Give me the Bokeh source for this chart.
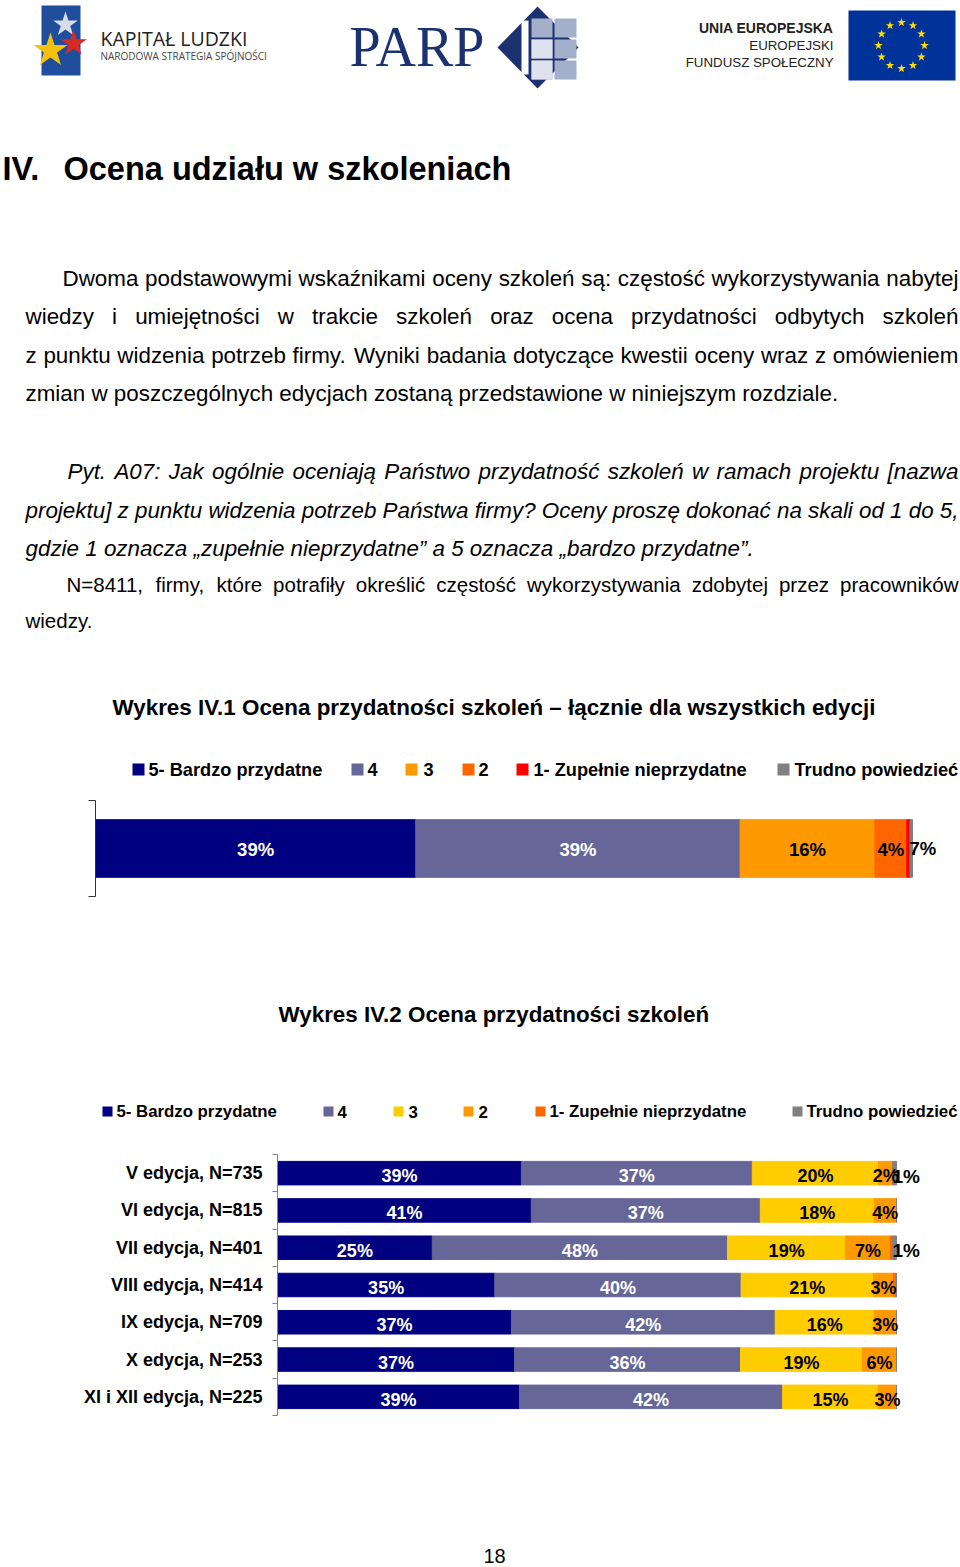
import math
import unicodedata
from bokeh.plotting import figure
from bokeh.layouts import column
from bokeh.models import Range1d, FixedTicker, LinearAxis, ColumnDataSource
from bokeh.core.properties import value
from bokeh.embed import file_html
from bokeh.resources import INLINE

FONT = "Liberation Sans"
SERIF = "Liberation Serif"

# ---------------- data ----------------
series_names = ["5- Bardzo przydatne", "4", "3", "2", "1- Zupełnie nieprzydatne", "Trudno powiedzieć"]

# Chart IV.1 (all editions)
c1_values = [39.2, 39.7, 16.5, 3.9, 0.4, 0.3]
c1_labels = ["39%", "39%", "16%", "4%", "", "7%"]
c1_colors = ["#000080", "#666699", "#FF9900", "#FF6600", "#FF0000", "#808080"]

# Chart IV.2 (by edition)
editions = ["V edycja, N=735", "VI edycja, N=815", "VII edycja, N=401", "VIII edycja, N=414",
            "IX edycja, N=709", "X edycja, N=253", "XI i XII edycja, N=225"]
s5 = [39.4, 41.0, 25.0, 35.1, 37.8, 38.3, 39.1]
s4 = [37.3, 37.0, 47.7, 39.8, 42.6, 36.5, 42.5]
s3 = [20.4, 18.4, 19.1, 21.4, 16.0, 19.7, 15.5]
s2 = [2.3, 3.6, 7.2, 3.2, 3.6, 5.5, 2.9]
s1 = [0.0, 0.0, 0.4, 0.5, 0.0, 0.0, 0.0]
st = [0.6, 0.0, 0.6, 0.0, 0.0, 0.0, 0.0]
l5 = ["39%", "41%", "25%", "35%", "37%", "37%", "39%"]
l4 = ["37%", "37%", "48%", "40%", "42%", "36%", "42%"]
l3 = ["20%", "18%", "19%", "21%", "16%", "19%", "15%"]
l2 = ["2%", "4%", "7%", "3%", "3%", "6%", "3%"]
l1 = ["", "", "", "", "", "", ""]
lt = ["1%", "", "1%", "", "", "", ""]
c2_colors = ["#000080", "#666699", "#FFCC00", "#FF9900", "#FF6600", "#808080"]

# ---------------- helpers ----------------
W = {" ": 278, "a": 556, "b": 556, "c": 500, "d": 556, "e": 556, "f": 278, "g": 556, "h": 556,
     "i": 222, "j": 222, "k": 500, "l": 222, "m": 833, "n": 556, "o": 556, "p": 556, "q": 556,
     "r": 333, "s": 500, "t": 278, "u": 556, "v": 500, "w": 722, "x": 500, "y": 500, "z": 500,
     "A": 667, "B": 667, "C": 722, "D": 722, "E": 667, "F": 611, "G": 778, "H": 722, "I": 278,
     "J": 500, "K": 667, "L": 556, "M": 833, "N": 722, "O": 778, "P": 667, "Q": 778, "R": 722,
     "S": 667, "T": 611, "U": 722, "V": 667, "W": 944, "X": 667, "Y": 667, "Z": 611,
     ".": 278, ",": 278, ":": 278, "?": 556, "[": 278, "]": 278, "=": 584, "„": 333, "”": 333,
     "ł": 222, "Ł": 556}


def cw(ch):
    if ch in W:
        return W[ch]
    if ch.isdigit():
        return 556
    base = unicodedata.normalize("NFD", ch)[0]
    return W.get(base, 556)


def page_fig(h):
    p = figure(width=960, height=h, x_range=Range1d(0, 960), y_range=Range1d(h, 0),
               x_axis_location=None, y_axis_location=None, toolbar_location=None,
               output_backend="svg", min_border=0, outline_line_color=None)
    p.frame_align = False
    p.grid.visible = False
    return p


def style_of(bold, italic):
    if bold and italic:
        return "bold italic"
    if bold:
        return "bold"
    if italic:
        return "italic"
    return "normal"


def txt(p, x, y, s, size, bold=False, italic=False, color="black", align="left", font=FONT):
    p.text(x=[x], y=[y], text=[s], text_font=value(font), text_font_size=f"{size}px",
           text_font_style=style_of(bold, italic), text_color=color, text_align=align,
           text_baseline="middle")


def justified(p, line, left, right, y, size, italic=False):
    words = line.split(" ")
    widths = [sum(cw(c) for c in w) * size / 1000 for w in words]
    gap = (right - left - sum(widths)) / (len(words) - 1)
    xs, x = [], left
    for wd in widths:
        xs.append(x)
        x += wd + gap
    p.text(x=xs, y=[y] * len(words), text=words, text_font=value(FONT),
           text_font_size=f"{size}px", text_font_style=style_of(False, italic),
           text_color="black", text_align="left", text_baseline="middle")


BODY = 22.4
NOTE = 20.5

# ---------------- top page part ----------------
top = page_fig(790)

# Kapitał Ludzki logo
top.quad(left=[41], right=[80], top=[5], bottom=[75], fill_color="#1f4e9c", line_color=None)
top.scatter(x=[65], y=[24], marker="star", size=26, fill_color="#d8dce6", line_color=None)
top.scatter(x=[73], y=[43], marker="star", size=28, fill_color="#d42a2a", line_color=None)
top.scatter(x=[50], y=[50], marker="star", size=36, fill_color="#f4c20d", line_color=None)
txt(top, 100, 38, "KAPITAŁ LUDZKI", 19.5, color="#222222", font="Open Sans")
txt(top, 100, 55, "NARODOWA STRATEGIA SPÓJNOŚCI", 10, color="#444444", font="Open Sans")

# PARP logo
txt(top, 349, 46, "PARP", 56, color="#1c3170", font=SERIF)
top.patch(x=[497, 537, 578, 537], y=[47, 6, 47, 88], fill_color="#1c3170", line_color=None)
top.quad(left=[521], right=[528], top=[20], bottom=[74], fill_color="white", line_color=None)
top.quad(left=[531, 554, 531, 554, 531, 554], right=[552, 576, 552, 576, 552, 576],
         top=[18, 18, 39, 39, 60, 60], bottom=[37, 37, 58, 58, 79, 79],
         fill_color="#a4afcc", line_color=None)
top.quad(left=[531, 531], right=[552, 552], top=[39, 60], bottom=[58, 79],
         fill_color="#dde2ee", line_color=None)

# EU logo
txt(top, 833, 27, "UNIA EUROPEJSKA", 14, bold=True, color="#222222", align="right")
txt(top, 833, 45, "EUROPEJSKI", 13.3, color="#222222", align="right")
txt(top, 833, 62, "FUNDUSZ SPOŁECZNY", 13.3, color="#222222", align="right")
top.quad(left=[848], right=[955], top=[10], bottom=[80], fill_color="#003399", line_color=None)
sx = [901 + 23 * math.sin(2 * math.pi * k / 12) for k in range(12)]
sy = [45 - 23 * math.cos(2 * math.pi * k / 12) for k in range(12)]
top.scatter(x=sx, y=sy, marker="star", size=9, fill_color="#FFDD00", line_color=None)

# heading
txt(top, 2, 168, "IV.", 32.5, bold=True)
txt(top, 63, 168, "Ocena udziału w szkoleniach", 32.5, bold=True)

# paragraphs
justified(top, "Dwoma podstawowymi wskaźnikami oceny szkoleń są: częstość wykorzystywania nabytej", 62, 958, 278, BODY)
justified(top, "wiedzy i umiejętności w trakcie szkoleń oraz ocena przydatności odbytych szkoleń", 25, 958, 316, BODY)
justified(top, "z punktu widzenia potrzeb firmy. Wyniki badania dotyczące kwestii oceny wraz z omówieniem", 25, 958, 355, BODY)
txt(top, 25, 393, "zmian w poszczególnych edycjach zostaną przedstawione w niniejszym rozdziale.", BODY)
justified(top, "Pyt. A07: Jak ogólnie oceniają Państwo przydatność szkoleń w ramach projektu [nazwa", 67, 958, 471, BODY, italic=True)
justified(top, "projektu] z punktu widzenia potrzeb Państwa firmy? Oceny proszę dokonać na skali od 1 do 5,", 25, 958, 510, BODY, italic=True)
txt(top, 25, 548, "gdzie 1 oznacza „zupełnie nieprzydatne” a 5 oznacza „bardzo przydatne”.", BODY, italic=True)
justified(top, "N=8411, firmy, które potrafiły określić częstość wykorzystywania zdobytej przez pracowników", 66, 958, 584, NOTE)
txt(top, 25, 620, "wiedzy.", NOTE)

# chart 1 title + legend
txt(top, 112, 707, "Wykres IV.1 Ocena przydatności szkoleń – łącznie dla wszystkich edycji", 22.4, bold=True)
leg1_sq = [138, 357, 411, 468, 522, 783]
leg1_tx = [148, 367, 423, 478, 533, 794]
top.scatter(x=leg1_sq, y=[769] * 6, marker="square", size=12, fill_color=c1_colors, line_color=None)
top.text(x=leg1_tx, y=[769] * 6, text=series_names, text_font=value(FONT), text_font_size="18.2px",
         text_font_style="bold", text_baseline="middle", text_align="left")

# ---------------- chart 1 ----------------
H1 = 115
fl1, fr1, bar1_end = 95, 945, 912
p1 = figure(width=960, height=H1, x_range=Range1d(0, 100 * (fr1 - fl1) / (bar1_end - fl1)),
            y_range=Range1d(0, 1), x_axis_location=None, y_axis_location=None,
            toolbar_location=None, output_backend="svg", min_border_left=fl1,
            min_border_right=960 - fr1, min_border_top=10, min_border_bottom=9,
            outline_line_color=None)
p1.frame_align = False
p1.grid.visible = False
keys1 = [f"v{i}" for i in range(len(c1_values))]
src1 = ColumnDataSource(dict(y=[0.5], **{k: [v] for k, v in zip(keys1, c1_values)}))
p1.hbar_stack(keys1, y="y", height=0.6, color=c1_colors, source=src1)
ax1 = LinearAxis(ticker=FixedTicker(ticks=[0, 1]), major_tick_out=7, major_tick_in=0,
                 minor_tick_line_color=None, major_label_overrides={0: "", 1: ""},
                 major_label_standoff=0, axis_line_color="#333333", major_tick_line_color="#333333")
p1.add_layout(ax1, "left")
cum = 0
total1 = sum(c1_values)
for i, (v, lab) in enumerate(zip(c1_values, c1_labels)):
    cum += v
    if not lab:
        continue
    col = "white" if i < 2 else "black"
    if v < 1:
        p1.text(x=[total1], y=[0.5], text=[lab], text_font=value(FONT), text_font_size="18.5px",
                text_font_style="bold", text_color=col, text_align="left", text_baseline="middle",
                x_offset=-3)
    else:
        p1.text(x=[cum - v / 2], y=[0.5], text=[lab], text_font=value(FONT), text_font_size="18.5px",
                text_font_style="bold", text_color=col, text_align="center", text_baseline="middle",
                y_offset=1)

# ---------------- middle: chart 2 title + legend ----------------
mid = page_fig(240)
txt(mid, 278, 109, "Wykres IV.2 Ocena przydatności szkoleń", 22.4, bold=True)
leg2_sq = [107, 328, 398, 468, 540, 797]
leg2_tx = [116, 337, 408, 478, 549, 806]
mid.scatter(x=leg2_sq, y=[206] * 6, marker="square", size=10, fill_color=c2_colors, line_color=None)
mid.text(x=leg2_tx, y=[206] * 6, text=series_names, text_font=value(FONT), text_font_size="16.8px",
         text_font_style="bold", text_baseline="middle", text_align="left")

# ---------------- chart 2 ----------------
H2 = 280
fl2, fr2, bar2_end = 277, 945, 896
n = len(editions)
p2 = figure(width=960, height=H2, x_range=Range1d(0, 100 * (fr2 - fl2) / (bar2_end - fl2)),
            y_range=Range1d(n - 0.5, -0.5), x_axis_location=None, y_axis_location=None,
            toolbar_location=None, output_backend="svg", min_border_left=fl2,
            min_border_right=960 - fr2, min_border_top=9, min_border_bottom=10,
            outline_line_color=None)
p2.frame_align = False
p2.grid.visible = False
series2 = [s5, s4, s3, s2, s1, st]
labels2 = [l5, l4, l3, l2, l1, lt]
keys2 = [f"s{j}" for j in range(6)]
src2 = ColumnDataSource(dict(y=list(range(n)), **{k: s for k, s in zip(keys2, series2)}))
p2.hbar_stack(keys2, y="y", height=0.63, color=c2_colors, source=src2)

bticks = [i - 0.5 for i in range(n + 1)]
ax_t = LinearAxis(ticker=FixedTicker(ticks=bticks), major_tick_out=5,
                  major_tick_in=0, minor_tick_line_color=None,
                  major_label_overrides={t: "" for t in bticks},
                  major_label_standoff=0, axis_line_color="#808080", major_tick_line_color="#808080")
ax_l = LinearAxis(ticker=FixedTicker(ticks=list(range(n))),
                  major_label_overrides={i: e for i, e in enumerate(editions)},
                  axis_line_color=None, major_tick_line_color=None, major_tick_out=0,
                  major_tick_in=0, minor_tick_line_color=None, major_label_text_font=FONT,
                  major_label_text_font_size="18px", major_label_text_font_style="bold",
                  major_label_text_color="black", major_label_standoff=10)
p2.add_layout(ax_t, "left")
p2.add_layout(ax_l, "left")

for i in range(n):
    cum = 0
    total = sum(s[i] for s in series2)
    for j in range(6):
        v = series2[j][i]
        lab = labels2[j][i]
        cum += v
        if not lab:
            continue
        col = "white" if j < 2 else "black"
        if v < 1:
            p2.text(x=[total], y=[i], text=[lab], text_font=value(FONT), text_font_size="19px",
                    text_font_style="bold", text_color=col, text_align="left",
                    text_baseline="middle", x_offset=-4, y_offset=3)
        else:
            p2.text(x=[cum - v / 2], y=[i], text=[lab], text_font=value(FONT), text_font_size="18px",
                    text_font_style="bold", text_color=col, text_align="center",
                    text_baseline="middle", y_offset=3)

# ---------------- bottom ----------------
bot = page_fig(142)
txt(bot, 494, 130, "18", 20, align="center")

layout = column(top, p1, mid, p2, bot, spacing=0)
open("out.html", "w").write(file_html(layout, INLINE))
